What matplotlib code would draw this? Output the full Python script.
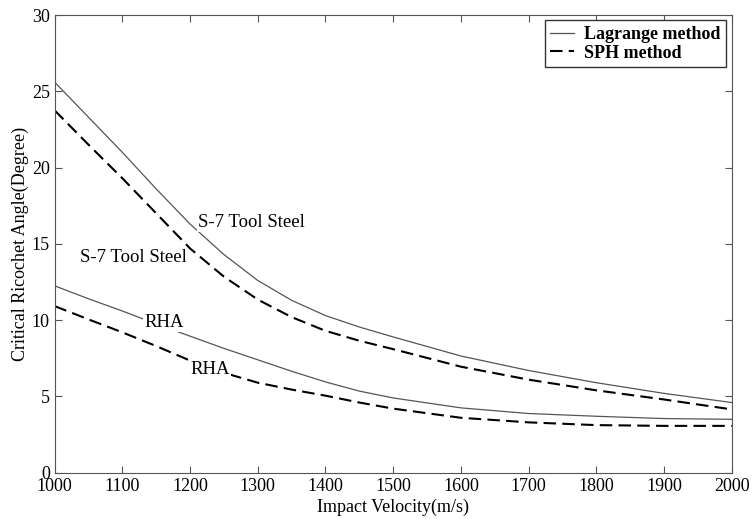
import matplotlib.pyplot as plt

plt.rcParams['font.family'] = ['Liberation Serif', 'DejaVu Serif']

velocidade = [1000, 1050, 1100, 1150, 1200, 1250, 1300, 1350, 1400, 1450,
              1500, 1600, 1700, 1800, 1900, 2000]

s7_lagrange = [25.6, 23.3, 21.0, 18.6, 16.3, 14.3, 12.6, 11.3, 10.3, 9.55,
               8.9, 7.65, 6.7, 5.9, 5.2, 4.6]
s7_sph = [23.75, 21.5, 19.3, 17.0, 14.7, 12.85, 11.35, 10.2, 9.3, 8.65,
          8.1, 6.95, 6.1, 5.4, 4.8, 4.15]
rha_lagrange = [12.25, 11.4, 10.6, 9.75, 8.95, 8.15, 7.4, 6.65, 5.95, 5.35,
                4.9, 4.25, 3.88, 3.7, 3.55, 3.5]
rha_sph = [10.92, 10.05, 9.2, 8.3, 7.35, 6.55, 5.9, 5.45, 5.05, 4.6,
           4.2, 3.6, 3.3, 3.12, 3.07, 3.07]

fig = plt.figure(figsize=(7.52, 5.19), dpi=100)
ax = fig.add_axes([0.0727, 0.0892, 0.9003, 0.8818])

ax.plot(velocidade, s7_lagrange, color="#555555", linewidth=0.9, label="Lagrange method")
ax.plot(velocidade, s7_sph, "k", linestyle=(0, (6, 3)), linewidth=1.5, label="SPH method")
ax.plot(velocidade, rha_lagrange, color="#555555", linewidth=0.9)
ax.plot(velocidade, rha_sph, "k", linestyle=(0, (6, 3)), linewidth=1.5)

caixa = dict(facecolor="white", edgecolor="none", pad=1)
ax.text(1212, 16.4, "S-7 Tool Steel", fontsize=13.5, va="center", ha="left", bbox=caixa)
ax.text(1037, 14.1, "S-7 Tool Steel", fontsize=13.5, va="center", ha="left", bbox=caixa)
ax.text(1133, 9.85, "RHA", fontsize=13.5, va="center", ha="left", bbox=caixa)
ax.text(1200, 6.75, "RHA", fontsize=13.5, va="center", ha="left", bbox=caixa)

ax.set_xlim(1000, 2000)
ax.set_ylim(0, 30)
ax.set_xticks(range(1000, 2001, 100))
ax.set_yticks(range(0, 31, 5))
ax.tick_params(direction="in", top=True, right=True, labelsize=13, length=5, color="#555555")
for lado in ax.spines.values():
    lado.set_color("#555555")

ax.set_xlabel("Impact Velocity(m/s)", fontsize=13, labelpad=3)
ax.set_ylabel("Critical Ricochet Angle(Degree)", fontsize=13, labelpad=2)

leg = ax.legend(loc="upper right", prop={"weight": "bold", "size": 13}, fancybox=False,
                edgecolor="#333333", framealpha=1, handlelength=1.3, handletextpad=0.6,
                borderaxespad=0.3, borderpad=0.3, labelspacing=0.1)

fig.savefig("out.png", dpi=100)
